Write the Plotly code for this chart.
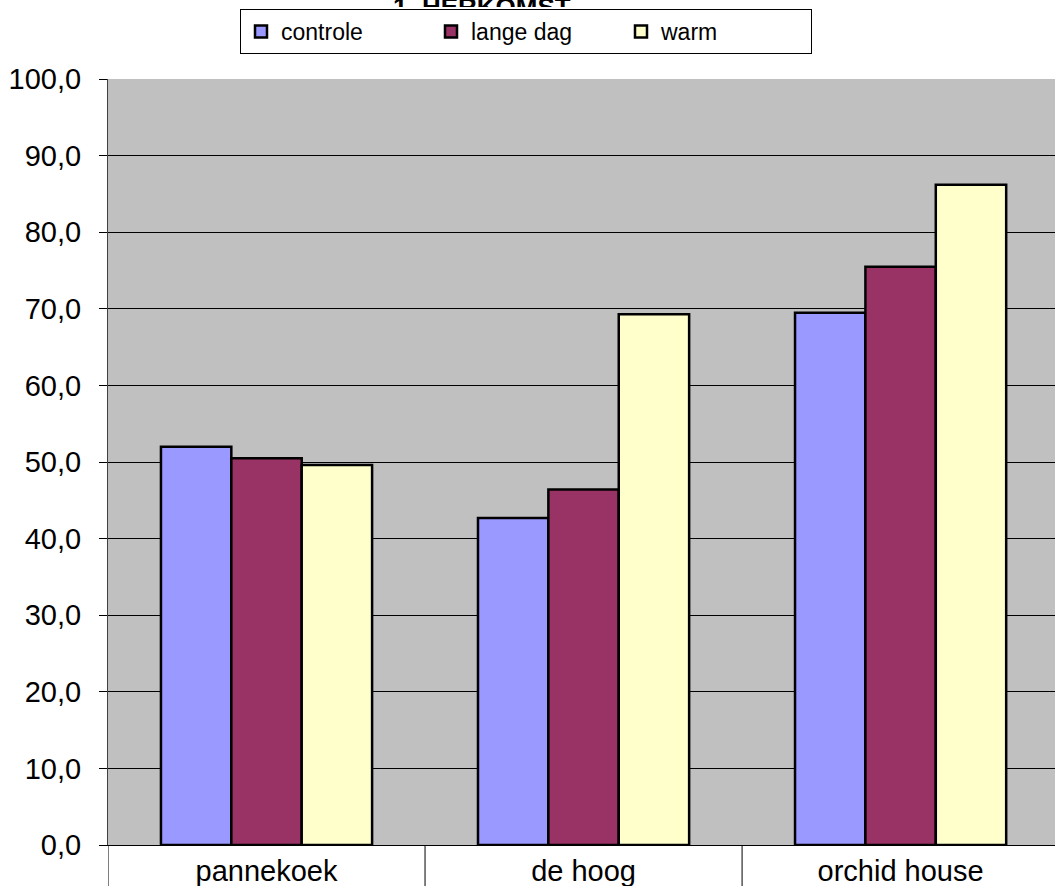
import plotly.graph_objects as go

categories = ["pannekoek", "de hoog", "orchid house"]
series_names = ["controle", "lange dag", "warm"]
controle = [52.0, 42.7, 69.5]
lange_dag = [50.5, 46.4, 75.5]
warm = [49.6, 69.3, 86.2]
colors = ["#9999FF", "#993366", "#FFFFCC"]
title_text = "1. HERKOMST"

W, H = 1055, 886
ml, mr, mt, mb = 108, 0, 79, 41
plot_h = H - mt - mb
plot_w = W - ml - mr

fig = go.Figure()
for name, vals, col in zip(series_names, [controle, lange_dag, warm], colors):
    fig.add_trace(go.Bar(
        x=categories, y=vals, name=name,
        marker=dict(color=col, line=dict(color="black", width=2.5)),
    ))

# category boundary separators below the axis
shapes = []
for i in range(len(categories) + 1):
    shapes.append(dict(type="line", xref="x", yref="paper",
                       x0=i - 0.5, x1=i - 0.5, y0=0, y1=-mb / plot_h,
                       line=dict(color="black", width=1)))

fig.update_layout(
    width=W, height=H,
    margin=dict(l=ml, r=mr, t=mt, b=mb, pad=0),
    paper_bgcolor="white",
    plot_bgcolor="#C0C0C0",
    font=dict(family="Liberation Sans, Arial, sans-serif", color="black"),
    separators=",.",
    barmode="group",
    bargap=0.334,
    bargroupgap=0,
    shapes=shapes,
    showlegend=True,
    legend=dict(
        orientation="h",
        xref="container", yref="container",
        x=240 / W, y=1 - 9 / H, xanchor="left", yanchor="top",
        bgcolor="white", bordercolor="black", borderwidth=1,
        font=dict(size=23),
        entrywidth=145,
        traceorder="normal",
    ),
    annotations=[dict(
        text="<b>" + title_text + "</b>",
        xref="paper", yref="paper",
        x=(482 - ml) / plot_w, y=1 + (mt + 9) / plot_h,
        xanchor="center", yanchor="top",
        height=15, valign="top", borderpad=0,
        showarrow=False,
        font=dict(size=26),
    )],
    xaxis=dict(
        type="category",
        range=[-0.5, 2.487],
        showgrid=False,
        ticks="",
        showline=True, linecolor="black", linewidth=1,
        tickfont=dict(size=29),
        fixedrange=True,
    ),
    yaxis=dict(
        range=[0, 100],
        dtick=10,
        tickformat=".1f",
        showgrid=True, gridcolor="black", gridwidth=1,
        zeroline=False,
        ticks="outside", ticklen=8, tickcolor="black",
        showline=True, linecolor="#404040", linewidth=1,
        tickfont=dict(size=29),
        ticklabelstandoff=12,
        fixedrange=True,
    ),
)

fig.write_html("out.html")
